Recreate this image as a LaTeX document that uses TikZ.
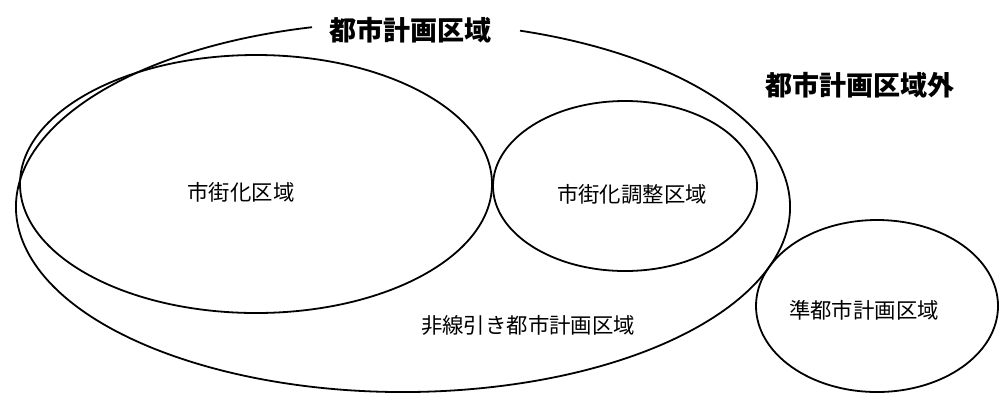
\documentclass[tikz,border=0pt]{standalone}
\usepackage{fontspec}
\setmainfont{Noto Sans CJK JP}
\tikzset{
  area/.style={line width=0.9pt},
  title/.style={font=\fontsize{13.5}{15}\selectfont\bfseries},
  label/.style={font=\fontsize{10.7}{12}\selectfont}
}

\begin{document}
\begin{tikzpicture}[x=0.5pt, y=0.5pt]
    \useasboundingbox (0,0) rectangle (999,393);
    % city planning area, open at the top for its title
    \draw[area] (403,186) ++(103.6:387 and 185)
        arc[start angle=103.6, end angle=432.4, x radius=387, y radius=185];
    \draw[area] (256,209) ellipse [x radius=236, y radius=129];
    \draw[area] (625,207) ellipse [x radius=132, y radius=85];
    \draw[area] (877,87) ellipse [x radius=121, y radius=86];
    \node[title] (city) at (410,363) {都市計画区域};
    \node[title] (outside) at (860,308) {都市計画区域外};
    \node[label] (urban) at (241,201) {市街化区域};
    \node[label] (control) at (632,199) {市街化調整区域};
    \node[label] (nonline) at (528,68) {非線引き都市計画区域};
    \node[label] (quasi) at (864,83) {準都市計画区域};
\end{tikzpicture}
\end{document}
